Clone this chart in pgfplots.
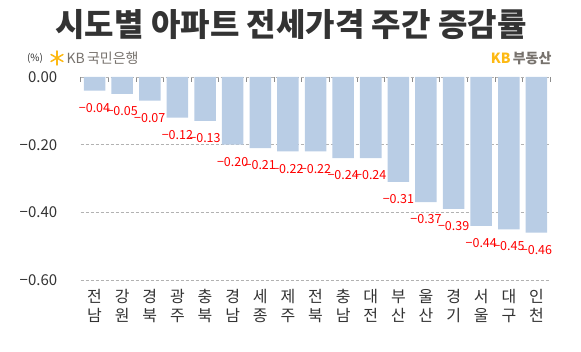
\documentclass[border=0pt]{standalone}
\usepackage{pgfplots}
\pgfplotsset{compat=1.18}
\usepackage{pgfplotstable}
\usepackage{fontspec}
\setmainfont{Noto Sans CJK KR}
\definecolor{barblue}{HTML}{B9CDE5}
\definecolor{kbgray}{HTML}{77726D}
\definecolor{kbyellow}{HTML}{FDB913}
\definecolor{ticktext}{HTML}{333333}
\definecolor{axisgray}{HTML}{8C8C8C}
\pgfplotstableread{
x y label
0 -0.04 −0.04
1 -0.05 −0.05
2 -0.07 −0.07
3 -0.12 −0.12
4 -0.13 −0.13
5 -0.20 −0.20
6 -0.21 −0.21
7 -0.22 −0.22
8 -0.22 −0.22
9 -0.24 −0.24
10 -0.24 −0.24
11 -0.31 −0.31
12 -0.37 −0.37
13 -0.39 −0.39
14 -0.44 −0.44
15 -0.45 −0.45
16 -0.46 −0.46
}\datatable
\begin{document}
\begin{tikzpicture}[x=1pt,y=1pt]
\useasboundingbox (0,0) rectangle (581,351);
\begin{axis}[
  at={(80.7pt,71pt)}, anchor=south west,
  scale only axis, width=469.6pt, height=203pt,
  xmin=-0.5, xmax=16.5, ymin=-0.6, ymax=0,
  axis line style={draw=none},
  xtick={0,...,16},
  xticklabels={전\\남,강\\원,경\\북,광\\주,충\\북,경\\남,세\\종,제\\주,전\\북,충\\남,대\\전,부\\산,울\\산,경\\기,서\\울,대\\구,인\\천},
  xticklabel style={align=center, font=\fontsize{16}{19}\selectfont, text=ticktext, yshift=-6pt},
  major x tick style={draw=none},
  minor xtick={-0.5,0.5,...,16.5},
  minor tick length=5pt,
  minor x tick style={draw=axisgray, line width=0.8pt},
  xtick pos=upper, xticklabel pos=lower,
  tick align=inside,
  ytick={-0.6,-0.4,-0.2,0},
  yticklabels={−0.60,−0.40,−0.20,0.00},
  yticklabel style={font=\fontsize{15}{15}\selectfont, text=ticktext, xshift=-20pt},
  major y tick style={draw=none},
  ymajorgrids,
  y grid style={densely dashed, draw=black!30, line width=0.5pt},
  extra y ticks={0},
  extra y tick labels={},
  extra y tick style={grid=major, major grid style={solid, draw=axisgray, line width=0.8pt}},
  clip=false,
]
\addplot[ybar, bar width=21.5pt, bar shift=0pt, draw=none, fill=barblue,
  point meta=explicit symbolic,
  nodes near coords,
  every node near coord/.append style={anchor=north, font=\fontsize{12.5}{13}\selectfont, text=red, yshift=-9pt}]
  table[x=x, y=y, meta=label] {\datatable};
\end{axis}
% title and logos
\node[font=\bfseries\fontsize{32}{34}\selectfont, text=black!80] at (291,326) {시도별 아파트 전세가격 주간 증감률};
\node[font=\fontsize{10}{10}\selectfont, text=black!80] at (35,293) {(\%)};
\begin{scope}[shift={(57,293)}, kbyellow, line width=1.5pt, line cap=round]
  \draw (0,-7) -- (0,7); \draw (-6,-3.5) -- (6,3.5); \draw (-6,3.5) -- (6,-3.5);
\end{scope}
\node[font=\fontsize{14}{14}\selectfont, text=kbgray, anchor=west] at (63,293) {KB\,국민은행};
\node[font=\bfseries\fontsize{14}{14}\selectfont, anchor=east] at (555,293) {\textcolor{kbyellow}{KB}\,\textcolor{kbgray}{부동산}};
\end{tikzpicture}
\end{document}
